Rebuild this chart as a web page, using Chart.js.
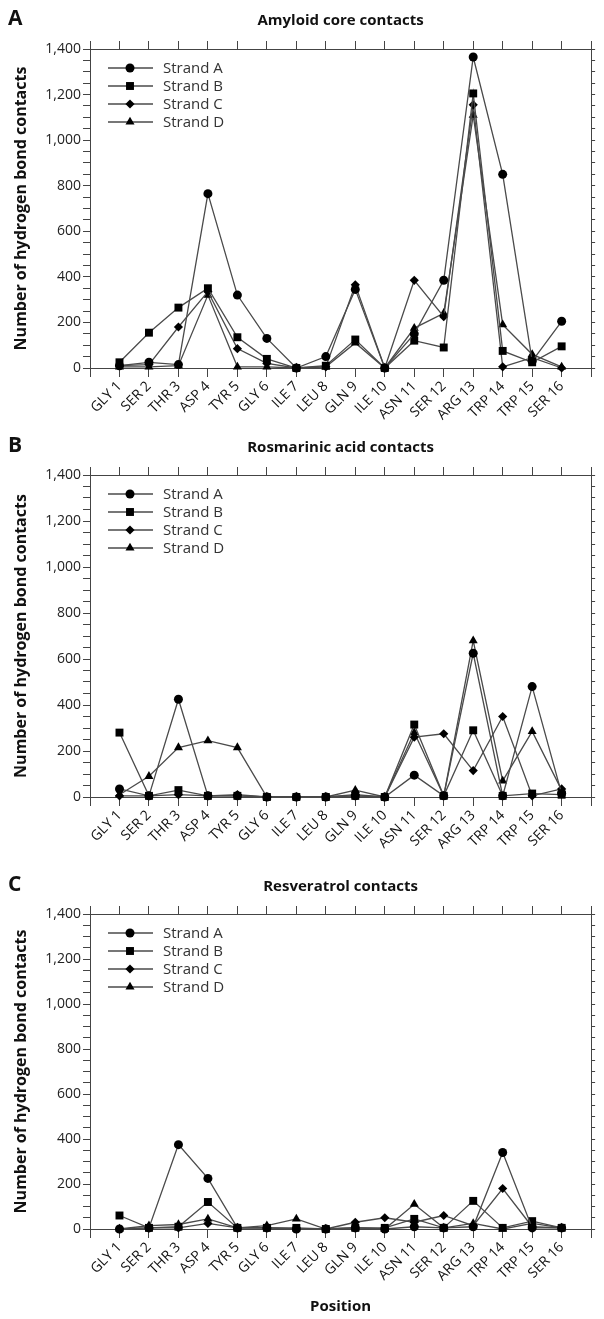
<!DOCTYPE html>
<html>
<head>
<meta charset="utf-8">
<script src="https://cdn.jsdelivr.net/npm/chart.js@4/dist/chart.umd.min.js"></script>
<style>
  html, body { margin: 0; padding: 0; background: #fff; }
  .panel { position: absolute; left: 0; }
</style>
</head>
<body>
<div class="panel" style="top:0px"><canvas id="chartA" width="604" height="440"></canvas></div>
<div class="panel" style="top:427px"><canvas id="chartB" width="604" height="439"></canvas></div>
<div class="panel" style="top:866px"><canvas id="chartC" width="604" height="453"></canvas></div>
<script>
const positions = ["GLY 1", "SER 2", "THR 3", "ASP 4", "TYR 5", "GLY 6", "ILE 7", "LEU 8",
  "GLN 9", "ILE 10", "ASN 11", "SER 12", "ARG 13", "TRP 14", "TRP 15", "SER 16"];
const strandNames = ["Strand A", "Strand B", "Strand C", "Strand D"];
const yTicks = [0, 200, 400, 600, 800, 1000, 1200, 1400];

// A: amyloid core contacts
const amyloidA = [10, 25, 15, 765, 320, 130, 0, 50, 345, 0, 150, 385, 1365, 850, 30, 205];
const amyloidB = [25, 155, 265, 350, 135, 40, 0, 10, 125, 0, 120, 90, 1205, 75, 25, 95];
const amyloidC = [10, 15, 180, 335, 85, 20, 0, 5, 365, 0, 385, 225, 1155, 5, 45, 0];
const amyloidD = [5, 5, 10, 320, 5, 5, 0, 5, 110, 0, 175, 240, 1110, 190, 60, 5];

// B: rosmarinic acid contacts
const rosmarinicA = [35, 5, 425, 5, 5, 0, 0, 0, 5, 0, 95, 5, 625, 5, 480, 15];
const rosmarinicB = [280, 5, 30, 5, 5, 0, 0, 0, 5, 0, 315, 5, 290, 5, 15, 10];
const rosmarinicC = [5, 5, 10, 5, 10, 0, 0, 0, 10, 0, 260, 275, 115, 350, 5, 35];
const rosmarinicD = [10, 90, 215, 245, 215, 0, 0, 0, 30, 0, 280, 5, 680, 70, 285, 30];

// C: resveratrol contacts
const resveratrolA = [0, 5, 375, 225, 5, 5, 0, 0, 5, 0, 10, 5, 10, 340, 5, 5];
const resveratrolB = [60, 5, 10, 120, 5, 5, 5, 0, 5, 5, 45, 5, 125, 5, 35, 5];
const resveratrolC = [0, 5, 5, 25, 5, 5, 0, 0, 30, 50, 30, 60, 15, 180, 10, 5];
const resveratrolD = [0, 15, 20, 45, 5, 15, 45, 0, 5, 0, 110, 5, 25, 0, 25, 5];

const markers = ["circle", "rect", "rectRot", "triangle"];
const markerSize = [4.5, 5.6, 4.6, 5.2];

Chart.defaults.font.family = "'Open Sans', 'DejaVu Sans', sans-serif";
Chart.defaults.color = "#222";

function drawMarker(ctx, style, r, x, y) {
  ctx.beginPath();
  if (style === "circle") {
    ctx.arc(x, y, r, 0, Math.PI * 2);
  } else if (style === "rect") {
    const s = r * Math.SQRT1_2;
    ctx.rect(x - s, y - s, 2 * s, 2 * s);
  } else if (style === "rectRot") {
    ctx.moveTo(x, y - r); ctx.lineTo(x + r, y); ctx.lineTo(x, y + r); ctx.lineTo(x - r, y);
    ctx.closePath();
  } else {
    const h = r * 1.5;
    ctx.moveTo(x, y - r); ctx.lineTo(x + h * 0.58, y + r * 0.5); ctx.lineTo(x - h * 0.58, y + r * 0.5);
    ctx.closePath();
  }
  ctx.fill();
}

// panel letter + in-plot legend with line and marker
const panelDecor = {
  id: "panelDecor",
  afterDraw(chart, args, opts) {
    const ctx = chart.ctx;
    const area = chart.chartArea;
    ctx.save();
    ctx.fillStyle = "#111";
    ctx.font = "bold 21px 'Open Sans', sans-serif";
    ctx.textBaseline = "middle";
    ctx.fillText(opts.letter, 8, 19);
    chart.data.datasets.forEach((ds, i) => {
      const y = area.top + 19 + i * 18;
      const x0 = area.left + 18;
      ctx.strokeStyle = "#4a4a4a";
      ctx.lineWidth = 1.3;
      ctx.beginPath();
      ctx.moveTo(x0, y);
      ctx.lineTo(x0 + 45, y);
      ctx.stroke();
      ctx.fillStyle = "#000";
      drawMarker(ctx, markers[i], markerSize[i], x0 + 22, y);
      ctx.fillStyle = "#333";
      ctx.font = "15px 'Open Sans', sans-serif";
      ctx.fillText(ds.label, x0 + 55, y + 1);
    });
    ctx.restore();
  }
};

function makeChart(id, letter, title, series, plotTop, plotBottom, showXTitle) {
  const canvas = document.getElementById(id);
  const H = canvas.height;
  const datasets = series.map((vals, i) => ({
    label: strandNames[i],
    data: vals.map((v, j) => ({ x: j + 1, y: v })),
    borderColor: "#4a4a4a",
    borderWidth: 1.3,
    pointStyle: markers[i],
    pointRadius: markerSize[i],
    pointHoverRadius: markerSize[i],
    pointBackgroundColor: "#000",
    pointBorderColor: "#000",
    pointBorderWidth: 0,
    tension: 0,
    clip: false
  }));
  const axisColor = "#444";
  return new Chart(canvas, {
    type: "line",
    data: { datasets },
    options: {
      responsive: false,
      animation: false,
      layout: { padding: { left: 0, right: 0, top: 0, bottom: 0 } },
      plugins: {
        legend: { display: false },
        tooltip: { enabled: false },
        title: {
          display: true,
          text: title,
          fullSize: false,
          color: "#111",
          font: { size: 15, weight: "bold" },
          padding: { top: 12, bottom: 0 }
        },
        panelDecor: { letter }
      },
      scales: {
        x: {
          type: "linear",
          position: "bottom",
          min: 0,
          max: positions.length + 1,
          afterFit: (s) => { s.height = H - plotBottom; },
          border: { display: true, color: axisColor, width: 1 },
          grid: { drawOnChartArea: false, drawTicks: true, tickLength: 9, color: axisColor },
          ticks: {
            stepSize: 1,
            autoSkip: false,
            maxRotation: 45,
            minRotation: 45,
            padding: 1,
            color: "#111",
            font: { size: 14 },
            callback: (v) => positions[v - 1] || ""
          },
          title: {
            display: showXTitle,
            text: "Position",
            color: "#111",
            font: { size: 15, weight: "bold" },
            padding: { top: 0, bottom: 3 }
          }
        },
        x2: {
          type: "linear",
          position: "top",
          min: 0,
          max: positions.length + 1,
          afterFit: (s) => { s.height = plotTop - 30; },
          border: { display: true, color: axisColor, width: 1 },
          grid: { drawOnChartArea: false, drawTicks: true, tickLength: 8, color: axisColor },
          ticks: { stepSize: 1, autoSkip: false, display: false }
        },
        y: {
          position: "left",
          min: yTicks[0],
          max: yTicks[yTicks.length - 1],
          afterFit: (s) => { s.width = 90; },
          border: { display: true, color: axisColor, width: 1 },
          grid: { drawOnChartArea: false, drawTicks: true, tickLength: 7, color: axisColor },
          ticks: {
            stepSize: 50,
            autoSkip: false,
            padding: 2,
            color: "#222",
            font: { size: 14 },
            callback: (v) => yTicks.includes(v) ? v.toLocaleString("en-US") : ""
          },
          title: {
            display: true,
            text: "Number of hydrogen bond contacts",
            color: "#111",
            font: { size: 16, weight: "bold" },
            padding: { top: 12, bottom: 3 }
          }
        },
        y2: {
          position: "right",
          min: yTicks[0],
          max: yTicks[yTicks.length - 1],
          afterFit: (s) => { s.width = 4; },
          border: { display: true, color: axisColor, width: 1 },
          grid: { drawOnChartArea: false, drawTicks: true, tickLength: 4, color: axisColor },
          ticks: { stepSize: 50, autoSkip: false, display: false }
        }
      }
    },
    plugins: [panelDecor]
  });
}

makeChart("chartA", "A", "Amyloid core contacts",
  [amyloidA, amyloidB, amyloidC, amyloidD], 49, 368, false);
makeChart("chartB", "B", "Rosmarinic acid contacts",
  [rosmarinicA, rosmarinicB, rosmarinicC, rosmarinicD], 48, 370, false);
makeChart("chartC", "C", "Resveratrol contacts",
  [resveratrolA, resveratrolB, resveratrolC, resveratrolD], 48, 363, true);
</script>
</body>
</html>
